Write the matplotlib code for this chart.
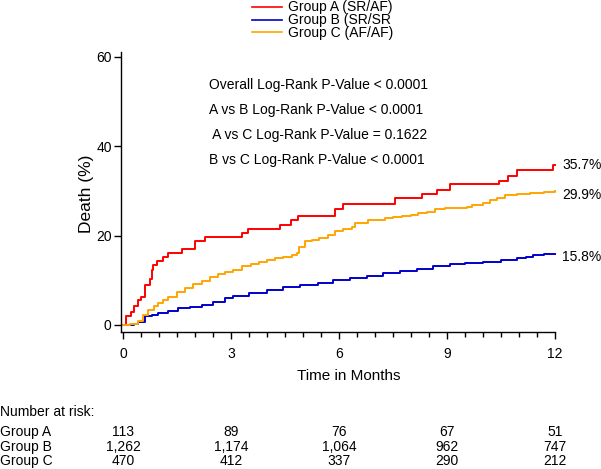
import matplotlib
matplotlib.use('Agg')
import matplotlib.pyplot as plt
from matplotlib.ticker import MultipleLocator
from matplotlib.lines import Line2D
import matplotlib.transforms as mtransforms

plt.rcParams['font.family'] = ['Liberation Sans', 'DejaVu Sans']

# ----------------- DATA -----------------
groups = ['Group A (SR/AF)', 'Group B (SR/SR', 'Group C (AF/AF)']
colors = ['#ff0000', '#0000cc', '#ffa500']

# Group A: cumulative death (%) - step points
t_a = [0, 0.08, 0.21, 0.30, 0.40, 0.49, 0.60, 0.74, 0.79, 0.83, 0.95, 1.11, 1.25,
       1.62, 2.00, 2.27, 3.30, 3.48, 4.36, 4.67, 4.87, 5.89, 6.12, 7.56, 8.30,
       8.71, 9.07, 10.43, 10.70, 10.94, 11.95, 12.0]
y_a = [0.0, 1.9, 3.0, 4.3, 5.6, 6.3, 9.0, 10.4, 12.3, 13.4, 14.3, 15.3, 16.2,
       17.0, 18.7, 19.7, 20.7, 21.5, 22.4, 23.4, 24.3, 25.9, 27.1, 28.4, 29.3,
       30.2, 31.5, 32.3, 33.4, 34.6, 35.7, 35.7]

# Group B
t_b = [0, 0.3, 0.42, 0.6, 0.8, 0.97, 1.25, 1.53, 1.85, 2.18, 2.5, 2.82, 3.06,
       3.5, 3.99, 4.45, 4.92, 5.4, 5.84, 6.3, 6.77, 7.23, 7.69, 8.16, 8.6, 9.08,
       9.5, 10.0, 10.5, 10.94, 11.2, 11.4, 11.7, 12.0]
y_b = [0.0, 0.2, 0.7, 1.9, 2.3, 2.6, 3.2, 3.7, 4.1, 4.5, 5.2, 6.0, 6.4,
       7.1, 7.8, 8.4, 9.0, 9.5, 10.1, 10.5, 11.0, 11.6, 12.0, 12.6, 13.1, 13.6,
       13.9, 14.2, 14.5, 14.9, 15.3, 15.6, 15.8, 15.8]

# Group C
t_c = [0, 0.2, 0.42, 0.55, 0.69, 0.85, 0.97, 1.1, 1.25, 1.5, 1.71, 1.95, 2.18,
       2.4, 2.64, 2.83, 3.05, 3.3, 3.55, 3.76, 4.0, 4.22, 4.45, 4.69, 4.82, 4.89,
       5.06, 5.25, 5.43, 5.70, 5.89, 6.1, 6.35, 6.44, 6.81, 7.05, 7.28, 7.5, 7.74,
       8.0, 8.2, 8.45, 8.67, 8.94, 9.3, 9.55, 9.7, 10.0, 10.2, 10.4, 10.6, 10.94,
       11.3, 11.7, 12.0]
y_c = [0.0, 0.2, 1.0, 2.2, 3.4, 4.2, 4.9, 5.5, 6.3, 7.3, 8.2, 9.1, 9.9,
       10.8, 11.5, 11.9, 12.4, 13.1, 13.7, 14.2, 14.6, 14.9, 15.3, 15.7, 16.2, 17.5,
       18.7, 19.0, 19.4, 20.2, 21.0, 21.4, 22.0, 22.9, 23.4, 23.6, 23.9, 24.1, 24.4,
       24.7, 25.0, 25.4, 25.9, 26.1, 26.1, 26.3, 26.8, 27.3, 27.9, 28.4, 29.0, 29.3,
       29.6, 29.8, 29.9]

end_labels = ['35.7%', '15.8%', '29.9%']
end_values = [35.7, 15.8, 29.9]

pvalue_lines = [
    'Overall Log-Rank P-Value < 0.0001',
    'A vs B Log-Rank P-Value < 0.0001',
    ' A vs C Log-Rank P-Value = 0.1622',
    'B vs C Log-Rank P-Value < 0.0001',
]

risk_months = [0, 3, 6, 9, 12]
risk_names = ['Group A', 'Group B', 'Group C']
risk_a = ['113', '89', '76', '67', '51']
risk_b = ['1,262', '1,174', '1,064', '962', '747']
risk_c = ['470', '412', '337', '290', '212']

# ----------------- FIGURE -----------------
W, H = 601, 469
fig = plt.figure(figsize=(W / 100, H / 100), dpi=100, facecolor='white')

def fx(px):
    return px / W

def fy(py):
    return 1 - py / H

ax = fig.add_axes([fx(120.7), fy(332), fx(555) - fx(120.7), fy(52) - fy(332)])
ax.set_xlim(-0.07, 12.0)
ax.set_ylim(-1.57, 61.1)

ax.plot(t_a, y_a, color=colors[0], lw=1.4, drawstyle='steps-post', clip_on=False)
ax.plot(t_b, y_b, color=colors[1], lw=1.4, drawstyle='steps-post', clip_on=False)
ax.plot(t_c, y_c, color=colors[2], lw=1.4, drawstyle='steps-post', clip_on=False)

for lab, v, off in zip(end_labels, end_values, [0.2, -0.6, -0.8]):
    ax.text(12.2, v + off, lab, fontsize=10, va='center', ha='left', clip_on=False)

for spine in ['top', 'right']:
    ax.spines[spine].set_visible(False)
for spine in ['left', 'bottom']:
    ax.spines[spine].set_linewidth(1.0)

ax.set_xticks([0, 3, 6, 9, 12])
ax.xaxis.set_minor_locator(MultipleLocator(0.5))
ax.set_yticks([0, 20, 40, 60])
ax.tick_params(which='major', length=5, width=1, labelsize=10, pad=6)
ax.tick_params(axis='y', which='major', length=5, pad=1.5)
ax.tick_params(which='minor', length=3.5, width=1)

fig.text(fx(87), fy(194), 'Death (%)', fontsize=12.5, rotation=90, ha='center', va='center')
fig.text(fx(349), fy(376), 'Time in Months', fontsize=11, ha='center', va='center')

# p-values
for i, line in enumerate(pvalue_lines):
    fig.text(fx(209), fy(85 + 25 * i), line, fontsize=10, ha='left', va='center')

# legend at top
for i, (g, c) in enumerate(zip(groups, colors)):
    yy = fy(7.5 + 12.5 * i)
    fig.add_artist(Line2D([fx(252), fx(282)], [yy, yy], color=c, lw=1.2))
    fig.text(fx(288), yy, g, fontsize=10, ha='left', va='center')

# number at risk table, columns under the x ticks
trans = mtransforms.blended_transform_factory(ax.transData, fig.transFigure)
fig.text(fx(0), fy(412), 'Number at risk:', fontsize=10, ha='left', va='center')
for r, (name, vals) in enumerate(zip(risk_names, [risk_a, risk_b, risk_c])):
    yy = fy(432 + 14.5 * r)
    fig.text(fx(0), yy, name, fontsize=10, ha='left', va='center')
    for m, v in zip(risk_months, vals):
        ax.text(m, yy, v, fontsize=10, ha='center', va='center',
                transform=trans, clip_on=False)

fig.savefig('out.png', dpi=100, facecolor='white')
